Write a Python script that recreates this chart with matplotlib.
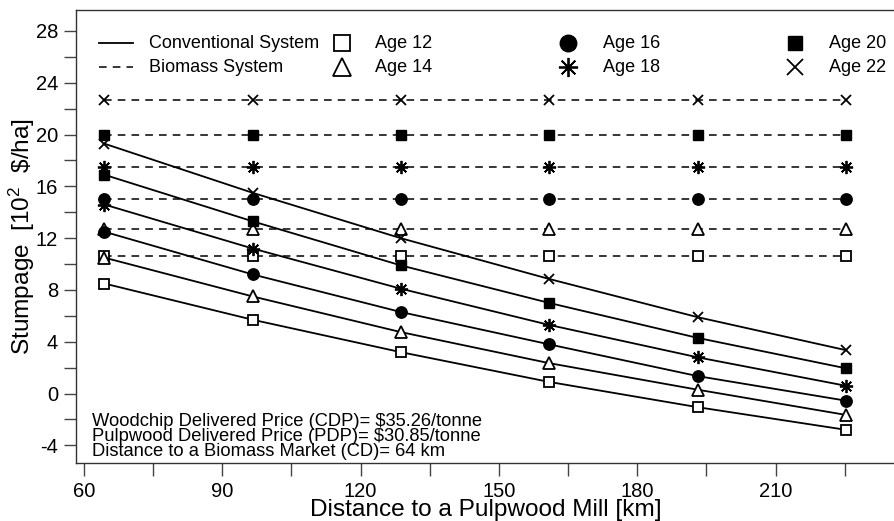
import matplotlib
matplotlib.use("Agg")
import matplotlib.pyplot as plt
from matplotlib.lines import Line2D

plt.rcParams['font.family'] = ['Liberation Sans', 'DejaVu Sans']
plt.rcParams['mathtext.fontset'] = 'custom'
plt.rcParams['mathtext.rm'] = 'Liberation Sans'
plt.rcParams['mathtext.it'] = 'Liberation Sans'
plt.rcParams['axes.unicode_minus'] = False

# ---- data ----
distance_km = [64.4, 96.6, 128.7, 160.9, 193.1, 225.3]
ages = ["Age 12", "Age 14", "Age 16", "Age 18", "Age 20", "Age 22"]

conv_age12 = [8.5, 5.7, 3.2, 0.9, -1.05, -2.8]
conv_age14 = [10.5, 7.5, 4.75, 2.35, 0.3, -1.65]
conv_age16 = [12.5, 9.2, 6.3, 3.8, 1.35, -0.55]
conv_age18 = [14.6, 11.2, 8.1, 5.3, 2.8, 0.6]
conv_age20 = [16.9, 13.3, 9.9, 7.0, 4.3, 1.95]
conv_age22 = [19.3, 15.5, 12.0, 8.85, 5.9, 3.35]

bio_age12 = [10.6, 10.6, 10.6, 10.6, 10.6, 10.6]
bio_age14 = [12.7, 12.7, 12.7, 12.7, 12.7, 12.7]
bio_age16 = [15.0, 15.0, 15.0, 15.0, 15.0, 15.0]
bio_age18 = [17.5, 17.5, 17.5, 17.5, 17.5, 17.5]
bio_age20 = [20.0, 20.0, 20.0, 20.0, 20.0, 20.0]
bio_age22 = [22.65, 22.65, 22.65, 22.65, 22.65, 22.65]

conv = [conv_age12, conv_age14, conv_age16, conv_age18, conv_age20, conv_age22]
bio = [bio_age12, bio_age14, bio_age16, bio_age18, bio_age20, bio_age22]

x_major = [60, 90, 120, 150, 180, 210]
y_major = [-4, 0, 4, 8, 12, 16, 20, 24, 28]

notes = ["Woodchip Delivered Price (CDP)= \\$35.26/tonne",
         "Pulpwood Delivered Price (PDP)= \\$30.85/tonne",
         "Distance to a Biomass Market (CD)= 64 km"]

# ---- styles ----
W, H = 895, 521
mstyles = [
    dict(marker='s', ms=7.5, mfc='white', mec='black', mew=1.3),
    dict(marker='^', ms=8.5, mfc='white', mec='black', mew=1.3),
    dict(marker='o', ms=8.2, mfc='black', mec='black', mew=1.0),
    dict(marker=(8, 2, 0), ms=9.5, mfc='black', mec='black', mew=1.3),
    dict(marker='s', ms=7.2, mfc='black', mec='black', mew=1.0),
    dict(marker='x', ms=7.5, mfc='black', mec='black', mew=1.3),
]

fig = plt.figure(figsize=(W / 100, H / 100), dpi=100)
ax = fig.add_axes([76 / W, 58 / H, (W - 76) / W, 453 / H])

for c, b, st in zip(conv, bio, mstyles):
    ax.plot(distance_km, b, color='black', lw=1.1, dashes=(5, 4), zorder=2, **st)
    ax.plot(distance_km, c, color='black', lw=1.3, linestyle='-', zorder=3, **st)

ax.set_xlim(58.26, 235.9)
ax.set_ylim(-5.36, 29.62)
ax.set_xticks(x_major)
ax.set_xticks([75, 105, 135, 165, 195, 225], minor=True)
ax.set_yticks(y_major)
ax.set_yticks([-2, 2, 6, 10, 14, 18, 22, 26], minor=True)
ax.tick_params(which='both', direction='out', length=9, width=1.0, color='#444444',
               labelsize=14.5)
ax.tick_params(axis='x', pad=4.5)
ax.tick_params(axis='y', pad=4)
ax.spines['right'].set_visible(False)
for s in ['left', 'top', 'bottom']:
    ax.spines[s].set_color('#333333')
    ax.spines[s].set_linewidth(1.0)

ax.set_xlabel("Distance to a Pulpwood Mill [km]", fontsize=17.6, va='center')
ax.xaxis.set_label_coords((486 - 76) / (W - 76), -(510 - 463) / 453)
ax.set_ylabel("Stumpage  [10$^2$  \\$/ha]", fontsize=17.6, va='center')
ax.yaxis.set_label_coords(-(76 - 22) / (W - 76), 0.5)

# notes
note_y = [426, 441, 456]
for txt, py in zip(notes, note_y):
    ax.text((92 - 76) / (W - 76), (463 - py) / 453, txt, transform=ax.transAxes,
            fontsize=13.2, va='baseline', ha='left')

# legend (manual)
def axf(px, py):
    return (px - 76) / (W - 76), (463 - py) / 453

tr = ax.transAxes
x0, y0 = axf(99, 43)
x1, _ = axf(133, 43)
ax.add_line(Line2D([x0, x1], [y0, y0], transform=tr, color='black', lw=1.3))
_, y1 = axf(99, 67)
ax.add_line(Line2D([x0, x1], [y1, y1], transform=tr, color='black', lw=1.1, dashes=(5, 4)))
tx, _ = axf(149, 0)
ax.text(tx, y0, "Conventional System", transform=tr, fontsize=13, va='center', ha='left')
ax.text(tx, y1, "Biomass System", transform=tr, fontsize=13, va='center', ha='left')

leg_cols = [(342, 375), (568, 603), (795, 829)]
for i, (mx, tx_px) in enumerate(leg_cols):
    for j, py in enumerate([43, 67]):
        k = i * 2 + j
        st = dict(mstyles[k])
        st['ms'] = st['ms'] * 1.45
        ax_x, ax_y = axf(mx, py)
        ax.add_line(Line2D([ax_x], [ax_y], transform=tr, linestyle='none', **st))
        ax.text(axf(tx_px, py)[0], ax_y, ages[k], transform=tr, fontsize=13,
                va='center', ha='left')

fig.savefig("out.png", dpi=100)
